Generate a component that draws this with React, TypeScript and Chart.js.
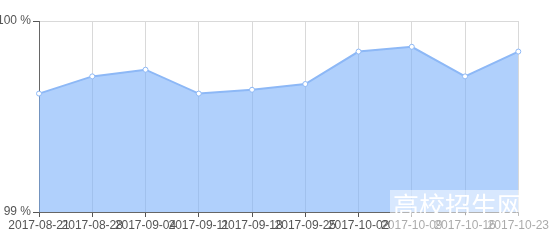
import React, { useEffect, useRef } from "react";
import { Chart, registerables } from "chart.js";

Chart.register(...registerables);

const categories = [
  "2017-08-21",
  "2017-08-28",
  "2017-09-04",
  "2017-09-11",
  "2017-09-18",
  "2017-09-25",
  "2017-10-02",
  "2017-10-09",
  "2017-10-16",
  "2017-10-23",
];
const rateValues = [99.62, 99.71, 99.745, 99.62, 99.64, 99.67, 99.84, 99.865, 99.71, 99.84];
const yTicks = [99, 100];

export default function App() {
  const ref = useRef<HTMLCanvasElement | null>(null);

  useEffect(() => {
    if (!ref.current) return;
    const font = { family: "'Liberation Sans', Arial, sans-serif", size: 12 };
    const chart = new Chart(ref.current, {
      type: "line",
      data: {
        labels: categories,
        datasets: [
          {
            data: rateValues,
            fill: "start",
            backgroundColor: "rgba(123,177,250,0.6)",
            borderColor: "#8db8f6",
            borderWidth: 2,
            tension: 0,
            pointRadius: 2.5,
            pointBackgroundColor: "#ffffff",
            pointBorderColor: "#8db8f6",
            pointBorderWidth: 1,
          },
        ],
      },
      options: {
        animation: false,
        responsive: false,
        maintainAspectRatio: false,
        layout: { padding: { top: 21, right: 30, left: 0, bottom: 0 } },
        plugins: { legend: { display: false }, tooltip: { enabled: false } },
        scales: {
          x: {
            offset: false,
            afterFit: (s: any) => {
              s.height = 38;
            },
            grid: {
              color: "#d9d9d9",
              tickColor: "#555555",
              tickLength: 5,
              drawTicks: true,
            },
            border: { color: "#666666", width: 1 },
            ticks: {
              autoSkip: false,
              maxRotation: 0,
              minRotation: 0,
              padding: 1,
              color: "#555555",
              font,
            },
          },
          y: {
            min: 99,
            max: 100,
            afterFit: (s: any) => {
              s.width = 39;
            },
            afterBuildTicks: (s: any) => {
              s.ticks = yTicks.map((v) => ({ value: v }));
            },
            grid: {
              color: "#d9d9d9",
              tickColor: "#555555",
              tickLength: 6,
            },
            border: { color: "#666666", width: 1 },
            ticks: {
              padding: 2,
              color: "#555555",
              font,
              callback: (v: any) => `${v} %`,
            },
          },
        },
      },
    });
    return () => chart.destroy();
  }, []);

  return (
    <div style={{ position: "absolute", left: 0, top: 0, width: 550, height: 250, background: "#fff" }}>
      <canvas ref={ref} width={550} height={250} style={{ position: "absolute", left: 0, top: 0 }} />
      <div
        style={{
          position: "absolute",
          left: 390,
          top: 190,
          width: 160,
          height: 50,
          background: "rgba(255,255,255,0.5)",
          color: "#ffffff",
          fontFamily: "'Noto Sans CJK SC', sans-serif",
          fontSize: 26,
          lineHeight: "30px",
          paddingLeft: 3,
          boxSizing: "border-box",
          overflow: "hidden",
          whiteSpace: "nowrap",
        }}
      >
        高校招生网
      </div>
    </div>
  );
}
